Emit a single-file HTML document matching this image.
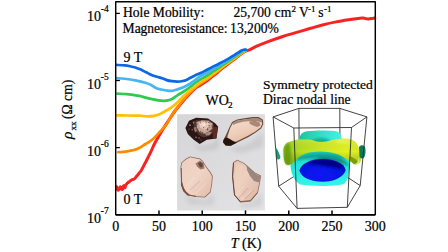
<!DOCTYPE html>
<html><head><meta charset="utf-8"><style>
html,body{margin:0;padding:0;background:#fff;overflow:hidden;}
svg{display:block;}
text{font-family:"Liberation Serif",serif;fill:#000;stroke:#000;stroke-width:0.22px;}
</style></head><body>
<svg width="448" height="252" viewBox="0 0 448 252">
<rect width="448" height="252" fill="#fff"/>
<defs>
<linearGradient id="pbg" x1="0" y1="0" x2="1" y2="1">
 <stop offset="0" stop-color="#d6d6d8"/><stop offset="0.5" stop-color="#dcdcde"/><stop offset="1" stop-color="#e3e3e5"/>
</linearGradient>
<linearGradient id="c2g" x1="0" y1="0" x2="0.5" y2="1">
 <stop offset="0" stop-color="#f3dccd"/><stop offset="0.55" stop-color="#efcfbc"/><stop offset="1" stop-color="#e2b8a0"/>
</linearGradient>
<linearGradient id="c3g" x1="0" y1="0" x2="1" y2="1">
 <stop offset="0" stop-color="#eccebf"/><stop offset="0.5" stop-color="#f0d4c6"/><stop offset="1" stop-color="#e2bcaa"/>
</linearGradient>
<linearGradient id="c4g" x1="0" y1="0" x2="1" y2="1">
 <stop offset="0" stop-color="#e4c0ae"/><stop offset="0.4" stop-color="#eed0c0"/><stop offset="1" stop-color="#dcb4a2"/>
</linearGradient>
<filter id="bl1" x="-20%" y="-20%" width="140%" height="140%"><feGaussianBlur stdDeviation="0.55"/></filter>
<filter id="bl2" x="-30%" y="-30%" width="160%" height="160%"><feGaussianBlur stdDeviation="2"/></filter>
</defs>
<rect x="177.1" y="114.2" width="87.8" height="96.3" fill="url(#pbg)"/>
<g filter="url(#bl2)" opacity="0.45">
 <path d="M192,141 L202,147 L214,143 L219,134 L218,149 L200,151 Z" fill="#b0b0b2"/>
 <path d="M228,149 L248,144 L263,133 L263,147 L240,153 Z" fill="#b8b8ba"/>
 <path d="M184,195 L205,201 L213,194 L214,205 L190,205 Z" fill="#bcbcbe"/>
 <path d="M240,203 L252,202 L262,192 L262,206 L242,208 Z" fill="#bcbcbe"/>
</g>
<g filter="url(#bl1)">
<!-- crystal 1 dark -->
<path d="M185.4,127.9 L189,120.8 L196.1,117.8 L208,118.4 L215.2,123.2 L218.2,126.7 L216.4,138.6 L206.8,139.8 L199.7,144 L193.7,139.8 L187.8,133.9 Z" fill="#2a1612"/>
<path d="M192.5,121.5 L199,119.4 L204,120.6 L209,119.6 L213,123 L214.5,128 L212.5,133 L208.5,136.2 L203.5,137.5 L199.5,135.5 L196.5,132 L194,127 Z" fill="#4e3832"/>
<path d="M196.5,122 L202.5,120.2 L208.5,120.8 L212.5,124 L212,129 L208.5,132 L204,133.8 L199.5,132 L196.8,127.5 Z" fill="#c8a496"/>
<path d="M199,122.5 L204,121.3 L208,122.5 L210.5,125.5 L208,128.8 L203.5,129.5 L200,127.5 Z" fill="#e6cabe"/>
<path d="M201.5,123.5 L204.5,123 L206,125 L203.5,126.2 Z" fill="#f4e2d8"/>
<ellipse cx="198.8" cy="129.7" rx="0.84" ry="0.44" transform="rotate(39 198.8 129.7)" fill="#f0dcd2"/>
<ellipse cx="209.7" cy="127.2" rx="0.75" ry="0.34" transform="rotate(1 209.7 127.2)" fill="#8a6a60"/>
<ellipse cx="211.9" cy="126.0" rx="0.50" ry="0.55" transform="rotate(166 211.9 126.0)" fill="#4a322c"/>
<ellipse cx="209.1" cy="125.7" rx="0.71" ry="0.63" transform="rotate(97 209.1 125.7)" fill="#4a322c"/>
<ellipse cx="207.0" cy="133.1" rx="0.42" ry="0.55" transform="rotate(16 207.0 133.1)" fill="#4a322c"/>
<ellipse cx="203.7" cy="127.7" rx="0.64" ry="0.44" transform="rotate(34 203.7 127.7)" fill="#4a322c"/>
<ellipse cx="204.0" cy="131.5" rx="0.45" ry="0.33" transform="rotate(121 204.0 131.5)" fill="#d8b8aa"/>
<ellipse cx="205.5" cy="127.8" rx="0.67" ry="0.39" transform="rotate(26 205.5 127.8)" fill="#d8b8aa"/>
<ellipse cx="203.0" cy="125.1" rx="0.72" ry="0.40" transform="rotate(179 203.0 125.1)" fill="#f0dcd2"/>
<ellipse cx="200.5" cy="131.7" rx="0.51" ry="0.54" transform="rotate(177 200.5 131.7)" fill="#4a322c"/>
<ellipse cx="204.4" cy="127.7" rx="0.92" ry="0.34" transform="rotate(110 204.4 127.7)" fill="#d8b8aa"/>
<ellipse cx="207.4" cy="128.8" rx="0.98" ry="0.38" transform="rotate(137 207.4 128.8)" fill="#8a6a60"/>
<ellipse cx="200.2" cy="122.4" rx="1.05" ry="0.32" transform="rotate(77 200.2 122.4)" fill="#6a4c44"/>
<ellipse cx="207.6" cy="129.5" rx="1.03" ry="0.63" transform="rotate(73 207.6 129.5)" fill="#6a4c44"/>
<ellipse cx="212.3" cy="128.3" rx="1.02" ry="0.45" transform="rotate(68 212.3 128.3)" fill="#6a4c44"/>
<ellipse cx="211.9" cy="123.4" rx="0.79" ry="0.43" transform="rotate(73 211.9 123.4)" fill="#f0dcd2"/>
<ellipse cx="197.0" cy="124.0" rx="1.00" ry="0.51" transform="rotate(6 197.0 124.0)" fill="#6a4c44"/>
<ellipse cx="201.7" cy="132.6" rx="1.09" ry="0.55" transform="rotate(86 201.7 132.6)" fill="#8a6a60"/>
<ellipse cx="198.4" cy="129.1" rx="1.04" ry="0.44" transform="rotate(172 198.4 129.1)" fill="#8a6a60"/>
<ellipse cx="206.2" cy="126.0" rx="0.81" ry="0.59" transform="rotate(55 206.2 126.0)" fill="#d8b8aa"/>
<ellipse cx="206.0" cy="122.0" rx="0.90" ry="0.40" transform="rotate(23 206.0 122.0)" fill="#4a322c"/>
<ellipse cx="200.5" cy="124.6" rx="0.57" ry="0.63" transform="rotate(76 200.5 124.6)" fill="#f0dcd2"/>
<ellipse cx="208.8" cy="131.4" rx="0.50" ry="0.31" transform="rotate(71 208.8 131.4)" fill="#6a4c44"/>
<ellipse cx="196.4" cy="126.3" rx="0.50" ry="0.60" transform="rotate(118 196.4 126.3)" fill="#6a4c44"/>
<ellipse cx="202.7" cy="132.4" rx="0.83" ry="0.32" transform="rotate(154 202.7 132.4)" fill="#6a4c44"/>
<ellipse cx="208.1" cy="127.7" rx="0.43" ry="0.53" transform="rotate(157 208.1 127.7)" fill="#4a322c"/>
<ellipse cx="203.9" cy="120.9" rx="0.93" ry="0.32" transform="rotate(128 203.9 120.9)" fill="#8a6a60"/>
<ellipse cx="212.4" cy="128.5" rx="0.92" ry="0.35" transform="rotate(28 212.4 128.5)" fill="#8a6a60"/>
<ellipse cx="209.9" cy="131.2" rx="0.74" ry="0.48" transform="rotate(98 209.9 131.2)" fill="#4a322c"/>
<ellipse cx="204.6" cy="130.3" rx="1.08" ry="0.37" transform="rotate(126 204.6 130.3)" fill="#d8b8aa"/>
<ellipse cx="208.9" cy="122.7" rx="0.83" ry="0.38" transform="rotate(36 208.9 122.7)" fill="#4a322c"/>
<path d="M205,133.5 L209.5,131.5 L212,132.5 L209.5,135.2 L206,135.6 Z" fill="#a8847a"/>
<path d="M193.5,127.5 L196,127 L197,131 L195,132.5 Z" fill="#9a7870"/>
<g fill="#b49088" opacity="0.85">
 <circle cx="190" cy="125.2" r="0.9"/><circle cx="192.2" cy="129.8" r="0.7"/><circle cx="196" cy="137.2" r="0.8"/><circle cx="193.5" cy="122.8" r="0.7"/><circle cx="201" cy="140" r="0.6"/><circle cx="189" cy="129" r="0.5"/><circle cx="199" cy="138" r="0.7"/>
</g>
<path d="M213.2,127 L218,126.8 L216.3,138.4 L212.5,138 Z" fill="#5e2a22"/>
<!-- crystal 2 -->
<path d="M232.1,121.9 L237.1,119.4 L244.3,118.3 L252.9,117.1 L258.6,117.1 L262.9,119.7 L263.3,124 L261.4,128.3 L255.7,132.6 L248.6,136.9 L241.4,140.4 L235.7,143.3 L230.7,145.7 L225.7,145.4 L223.1,142.6 L223.6,139.7 L226.4,134 L229.3,127.6 Z" fill="#6a4a3c"/>
<path d="M232.8,123 L237.5,120.6 L244.5,119.5 L253,118.4 L258.3,118.4 L261.9,120.4 L262.2,124 L260.5,127.6 L255,131.7 L248,135.8 L241,139.2 L235.2,142 L231,143.5 L227.5,141 L227.5,136 L230.2,128 Z" fill="url(#c2g)"/>
<path d="M232.8,123 L237.5,120.6 L244.5,119.5 L253,118.4 L258.3,118.4 L261.9,120.4 L262.1,122.5 L257,121.2 L250,121 L243,121.8 L237,123.2 L233,125 Z" fill="#9e7a6a" opacity="0.85"/>
<path d="M249,121.5 L255,120.8 L259.5,122.5 L260.5,125.5 L257,127 L253,125.5 L250,124 Z" fill="#8c6a5c" opacity="0.7"/>
<path d="M223.4,140 L225.5,137.5 L229,138.5 L233,141 L237,142.4 L235.7,143.3 L230.7,145.7 L225.7,145.4 L223.1,142.6 Z" fill="#22140f"/>
<!-- crystal 3 -->
<path d="M181.4,162.5 L186,158.5 L190,156.5 L200,158.5 L203,161 L206,166 L210.5,172 L212.8,176 L212,185 L210.6,192.5 L205,197.5 L196,197 L188,195.5 L183.5,191 L181,185 L180.8,175 L180.5,167 Z" fill="#8e6656"/>
<path d="M182.1,162.8 L186.4,159.2 L190.2,157.3 L199.6,159.2 L202.5,161.6 L205.4,166.5 L209.8,172.4 L212,176.2 L211.3,185 L209.9,192.1 L204.6,196.8 L196,196.3 L188.3,194.8 L184.1,190.6 L181.7,184.8 L181.5,175 L181.2,167.2 Z" fill="url(#c3g)"/>
<path d="M181.3,168 L181.6,181.5 L184,190.6 L188.3,194.8 L196,196.3" fill="none" stroke="#6e4a3c" stroke-width="0.8"/>
<g stroke-width="0.6" fill="none">
 <path d="M186,186 L195,177" stroke="#f6e2d6"/><path d="M190,190 L200,181" stroke="#caa292"/><path d="M196,193 L206,183" stroke="#f6e2d6"/>
</g>
<path d="M195.5,163.5 L200,160.4 L203.6,163 L204.6,168.4 L200.5,169.6 L197.2,166.8 Z" fill="#7a5444" opacity="0.7"/><path d="M198,163.5 L200.5,162 L202.8,164 L202.5,167.3 L200,167.2 Z" fill="#4a2e24" opacity="0.7"/>
<path d="M181.4,180 L183,186.5 L186,191.5 L190,195 L187.5,195.6 L183.2,191.3 L181,185 Z" fill="#7a4e3e"/>
<path d="M185,185 L192,192 L200,194 L192,195 L186,190 Z" fill="#f2d6c6" opacity="0.5"/>
<!-- crystal 4 -->
<path d="M233.2,162.2 L237.3,159.7 L244.5,163.2 L248.6,167.3 L254.8,172.5 L261,175.6 L260,182.8 L257.9,193.1 L250.7,201.4 L240.4,202.4 L234.2,195.2 L232.1,176.6 Z" fill="#8a6454"/>
<path d="M233.9,162.7 L237.4,160.5 L244,163.8 L248.1,167.8 L254.4,173 L260.2,176 L259.3,182.8 L257.2,192.7 L250.3,200.6 L240.8,201.6 L234.9,194.8 L232.9,176.6 Z" fill="url(#c4g)"/>
<path d="M236.5,163 L243,166 L240,190 L245,200 L238,199 L235,190 L234.5,175 Z" fill="#f0d2be" opacity="0.6"/>
<path d="M233.4,163 L232.6,176.6 L234.5,195 L240.5,202" fill="none" stroke="#5e3e32" stroke-width="0.9"/>
<path d="M241,201.5 L250.3,200.6 L257.2,192.7" fill="none" stroke="#7a5648" stroke-width="0.7"/>
<g stroke-width="0.6" fill="none">
 <path d="M238,199 L248,188" stroke="#c49c8a"/><path d="M241,200 L252,190" stroke="#f6e0d4"/><path d="M236,196 L244,186" stroke="#f6e0d4"/><path d="M245,199 L254,190" stroke="#c49c8a"/>
</g>
<path d="M246.6,165 L251,169 L256,174 L260.2,176.5 L259.3,182.5 L254,181 L250,176 L247,170 Z" fill="#8e7a76" opacity="0.85"/>
</g>

<defs>
<linearGradient id="capg" x1="0" y1="0" x2="1" y2="0">
 <stop offset="0" stop-color="#1cc49e"/><stop offset="0.35" stop-color="#2ad8b8"/><stop offset="0.75" stop-color="#3ae8d8"/><stop offset="1" stop-color="#44f0e6"/>
</linearGradient>
<linearGradient id="yelg" x1="0" y1="0" x2="1" y2="0">
 <stop offset="0" stop-color="#94cc1c"/><stop offset="0.2" stop-color="#b4de22"/><stop offset="0.5" stop-color="#cfe924"/><stop offset="0.8" stop-color="#e2f222"/><stop offset="1" stop-color="#d4ec28"/>
</linearGradient>
<linearGradient id="yelv" x1="0" y1="0" x2="0" y2="1">
 <stop offset="0" stop-color="#ffffff" stop-opacity="0.12"/><stop offset="0.5" stop-color="#000000" stop-opacity="0"/><stop offset="1" stop-color="#305000" stop-opacity="0.3"/>
</linearGradient>
<linearGradient id="cyg" x1="0" y1="0" x2="0" y2="1">
 <stop offset="0" stop-color="#18c8b4"/><stop offset="0.3" stop-color="#22e0d0"/><stop offset="1" stop-color="#34f4ee"/>
</linearGradient>
<radialGradient id="blg" cx="0.45" cy="0.7" r="0.65">
 <stop offset="0" stop-color="#0a1af4"/><stop offset="0.6" stop-color="#0614e4"/><stop offset="1" stop-color="#0410c8"/>
</radialGradient>
<filter id="fb" x="-10%" y="-10%" width="120%" height="120%"><feGaussianBlur stdDeviation="0.45"/></filter>
<filter id="fb2" x="-30%" y="-30%" width="160%" height="160%"><feGaussianBlur stdDeviation="1.2"/></filter>
</defs>
<g stroke="#222" stroke-width="0.85" fill="none">
 <path d="M273.1,116.9 L298.9,108.4 L339.8,108.4 L366.9,116.9"/>
 <path d="M298.9,108.4 L299.3,173"/>
 <path d="M339.8,108.4 L340.1,172.5"/>
 <path d="M278.7,186.2 L299.3,173 L340.1,172.5 L360.2,185.6"/>
</g>
<g filter="url(#fb)">
<!-- back cap -->
<path d="M299.2,142 C299,136 301,132.2 307,131.2 C315,130.2 327,130.2 335,131 C339.5,131.6 341.8,134.5 341.6,141 L300,143 Z" fill="url(#capg)"/>
<ellipse cx="321" cy="141" rx="9" ry="3" fill="#109c84" opacity="0.7" filter="url(#fb2)"/>
<!-- lower cyan ring -->
<path d="M291,160 C291.5,154 300,151 310,150.5 L336,150.5 C345,151 349.5,155 349.5,162 C349.5,171 348.5,180 344,184 C336,186.5 312,186.5 300,184.5 C295,181.5 291.5,175 290.6,167 Z" fill="url(#cyg)"/>
<path d="M318,156 C328,155.5 338,157 344,160.5 C347,163 348.5,165 348.5,166.5 C346,164.5 341,161.5 334,160 C328,159 322,158.5 318,158 Z" fill="#0a7a5a" opacity="0.9" filter="url(#fb2)"/>
<path d="M297,157.5 C305,154.2 314,153.6 322,153.6 C332,153.6 341,155 347,159 C341,159.3 332,158.2 322,158.2 C312,158.2 304,159 297,160.5 Z" fill="#0c9c8c" opacity="0.85" filter="url(#fb2)"/>
<!-- blue -->
<path d="M299.4,170.5 C301,163.5 311,159 322.5,159 C334,159 344,163 345.7,170 C344,177 334,181.8 322.5,181.8 C311,181.8 301,177.5 299.4,170.5 Z" fill="url(#blg)"/>
<path d="M308,162.5 C313,160 318,159.3 323,159.3 C332,159.3 339,161.5 343,165.5 C344,167.5 343,169 340,168.5 C334,167.5 328,166.5 322,165.5 C316,164.5 311,164 308,162.5 Z" fill="#00007a" opacity="0.85" filter="url(#fb2)"/>
<!-- yellow band -->
<path id="yb" d="M283.4,151 C283.3,147.5 284.5,145 286.5,143.5 C288.5,142 290,141.5 292,141 C294.5,140.2 296,139.6 298,139.5 C302,139.3 306,139.4 309,139.6 C313,140 315.5,141.6 318,141.8 C321,142 323,142 325,141.8 C328,141.5 331,140.2 335.6,139.6 C340,139 344,138.3 347,138.6 C351,139.3 354,140.5 356,142.5 C358,145 358.8,148 359.5,151 C360.2,154 360.8,156.5 360.8,158.5 C361,161.5 360,163.5 357.5,163.8 C354.5,164 351.5,162.3 349,160.8 C345,158.3 342,156 338.5,154.4 C333,152.7 327,151.8 320.3,151.6 C314,151.6 307,152.3 302,155 C298,157.3 296,160 293.5,162.5 C291,164.8 288,165.6 286,164.3 C284,162.5 283.5,156 283.4,151 Z" fill="url(#yelg)"/>
<path d="M283.4,151 C283.3,147.5 284.5,145 286.5,143.5 C288.5,142 290,141.5 292,141 C294.5,140.2 296,139.6 298,139.5 C302,139.3 306,139.4 309,139.6 C313,140 315.5,141.6 318,141.8 C321,142 323,142 325,141.8 C328,141.5 331,140.2 335.6,139.6 C340,139 344,138.3 347,138.6 C351,139.3 354,140.5 356,142.5 C358,145 358.8,148 359.5,151 C360.2,154 360.8,156.5 360.8,158.5 C361,161.5 360,163.5 357.5,163.8 C354.5,164 351.5,162.3 349,160.8 C345,158.3 342,156 338.5,154.4 C333,152.7 327,151.8 320.3,151.6 C314,151.6 307,152.3 302,155 C298,157.3 296,160 293.5,162.5 C291,164.8 288,165.6 286,164.3 C284,162.5 283.5,156 283.4,151 Z" fill="url(#yelv)"/>
<!-- left lobe shading -->
<path d="M283.8,150 C284.5,146 286,143.5 289,142.5 C291,148 292,156 290.5,164.6 C288,166 285,164 284.2,159 Z" fill="#5e9410" opacity="0.75" filter="url(#fb2)"/>
<!-- right lobe shading -->
<path d="M350,156.5 C353,157.5 356,159 357.5,161.5 C358,163.5 356.5,164.8 354,164.2 C351.5,163 350.2,160 350,156.5 Z" fill="#6e9a10" opacity="0.85" filter="url(#fb)"/>
<path d="M358.5,158 C359.8,160 360.2,162.5 358.5,164 C357,165.2 354.5,165.3 352.5,164.5 C355,164.3 357,163.5 357.8,161.5 Z" fill="#e4f46a" opacity="0.9"/>
<!-- highlight -->
<path d="M336,140.5 C342,139.6 348,141 352,144 C347,143.5 341,143 336,142.5 Z" fill="#f4fa60" opacity="0.6" filter="url(#fb2)"/>
<!-- teal blobs -->
<path d="M359,147 C360.5,144.8 363,144.6 364.6,146.5 C366,149 365.8,154 364,157.5 C362.5,159.2 360.5,158.8 359.5,156.5 Z" fill="#0b7a52"/>
<path d="M276.2,147.8 C277.5,150 279.5,153.5 280.3,156.5 C280.6,158.8 279,160 277.5,159.4 C276.3,158.5 275.9,156 276,152 Z" fill="#14a078"/>
</g>
<g stroke="#222" stroke-width="0.85" fill="none">
 <path d="M273.1,116.9 L293.8,128 L351.5,127.5 L366.9,116.9"/>
 <path d="M273.1,116.9 L278.7,186.2 L297.1,208.4 L347.3,207.3 L360.2,185.6 L366.9,116.9"/>
 <path d="M293.8,128 L297.1,208.4"/>
 <path d="M351.5,127.5 L347.3,207.3"/>
</g>

<path d="M116.40,186.50 C116.60,187.02 117.23,189.02 117.60,189.60 C117.97,190.18 118.25,190.33 118.60,190.00 C118.95,189.67 119.37,188.10 119.70,187.60 C120.03,187.10 120.28,186.72 120.60,187.00 C120.92,187.28 121.27,188.93 121.60,189.30 C121.93,189.67 122.30,189.70 122.60,189.20 C122.90,188.70 123.13,186.90 123.40,186.30 C123.67,185.70 123.95,185.35 124.20,185.60 C124.45,185.85 124.63,187.90 124.90,187.80 C125.17,187.70 125.37,185.80 125.80,185.00 C126.23,184.20 126.88,183.57 127.50,183.00 C128.12,182.43 128.77,182.13 129.50,181.60 C130.23,181.07 131.10,180.25 131.90,179.80 C132.70,179.35 133.52,179.48 134.30,178.90 C135.08,178.32 135.82,177.23 136.60,176.30 C137.38,175.37 138.20,174.32 139.00,173.30 C139.80,172.28 140.60,171.48 141.40,170.20 C142.20,168.92 143.03,167.05 143.80,165.60 C144.57,164.15 145.30,162.85 146.00,161.50 C146.70,160.15 147.12,159.28 148.00,157.50 C148.88,155.72 150.25,153.02 151.30,150.80 C152.35,148.58 153.20,146.37 154.30,144.20 C155.40,142.03 156.72,139.87 157.90,137.80 C159.08,135.73 160.22,133.78 161.40,131.80 C162.58,129.82 163.75,127.87 165.00,125.90 C166.25,123.93 167.37,122.32 168.90,120.00 C170.43,117.68 172.43,114.42 174.20,112.00 C175.97,109.58 177.65,107.75 179.50,105.50 C181.35,103.25 183.42,100.65 185.30,98.50 C187.18,96.35 189.10,94.35 190.80,92.60 C192.50,90.85 194.05,89.15 195.50,88.00 C196.95,86.85 198.08,86.57 199.50,85.70 C200.92,84.83 202.42,83.87 204.00,82.80 C205.58,81.73 207.50,80.43 209.00,79.30 C210.50,78.17 211.57,77.13 213.00,76.00 C214.43,74.87 216.27,73.62 217.60,72.50 C218.93,71.38 219.77,70.35 221.00,69.30 C222.23,68.25 223.67,67.22 225.00,66.20 C226.33,65.18 227.50,64.32 229.00,63.20 C230.50,62.08 232.50,60.63 234.00,59.50 C235.50,58.37 236.83,57.32 238.00,56.40 C239.17,55.48 240.08,54.68 241.00,54.00 C241.92,53.32 242.70,52.78 243.50,52.30 C244.30,51.82 244.72,51.55 245.80,51.10 C246.88,50.65 248.18,50.42 250.00,49.60 C251.82,48.78 253.47,47.62 256.70,46.20 C259.93,44.78 265.17,42.68 269.40,41.10 C273.63,39.52 277.87,38.07 282.10,36.70 C286.33,35.33 290.03,34.30 294.80,32.90 C299.57,31.50 305.93,29.67 310.70,28.30 C315.47,26.93 319.17,25.77 323.40,24.70 C327.63,23.63 331.87,22.72 336.10,21.90 C340.33,21.08 345.17,20.35 348.80,19.80 C352.43,19.25 355.70,18.88 357.90,18.60 C360.10,18.32 360.90,18.17 362.00,18.10 C363.10,18.03 363.55,18.05 364.50,18.20 C365.45,18.35 366.62,18.95 367.70,19.00 C368.78,19.05 369.82,18.65 371.00,18.50 C372.18,18.35 374.17,18.17 374.80,18.10" fill="none" stroke="#f82222" stroke-width="3.0" stroke-linecap="round" stroke-linejoin="round"/>
<path d="M118.30,152.20 C119.08,152.13 121.33,151.98 123.00,151.80 C124.67,151.62 126.80,151.33 128.30,151.10 C129.80,150.87 130.82,150.65 132.00,150.40 C133.18,150.15 134.23,150.00 135.40,149.60 C136.57,149.20 137.90,148.55 139.00,148.00 C140.10,147.45 140.92,146.97 142.00,146.30 C143.08,145.63 144.12,144.85 145.50,144.00 C146.88,143.15 148.63,142.43 150.30,141.20 C151.97,139.97 153.77,138.32 155.50,136.60 C157.23,134.88 158.98,132.77 160.70,130.90 C162.42,129.03 164.48,127.08 165.80,125.40 C167.12,123.72 167.58,122.53 168.60,120.80 C169.62,119.07 170.35,117.37 171.90,115.00 C173.45,112.63 175.92,109.22 177.90,106.60 C179.88,103.98 181.82,101.60 183.80,99.30 C185.78,97.00 187.93,94.73 189.80,92.80 C191.67,90.87 193.38,89.15 195.00,87.70 C196.62,86.25 198.00,85.18 199.50,84.11 C201.00,83.05 202.42,82.35 204.00,81.32 C205.58,80.29 207.50,79.03 209.00,77.94 C210.50,76.84 211.57,75.86 213.00,74.78 C214.43,73.70 216.27,72.52 217.60,71.46 C218.93,70.40 219.77,69.43 221.00,68.43 C222.23,67.43 223.67,66.45 225.00,65.47 C226.33,64.50 227.50,63.66 229.00,62.58 C230.50,61.49 232.50,60.06 234.00,58.95 C235.50,57.84 236.83,56.81 238.00,55.92 C239.17,55.02 240.08,54.24 241.00,53.58 C241.92,52.93 242.70,52.42 243.50,51.97 C244.30,51.53 245.42,51.09 245.80,50.92" fill="none" stroke="#ff8a00" stroke-width="2.7" stroke-linecap="round" stroke-linejoin="round"/>
<path d="M116.70,115.30 C118.37,115.33 123.82,115.45 126.70,115.50 C129.58,115.55 131.78,115.57 134.00,115.60 C136.22,115.63 137.83,115.58 140.00,115.70 C142.17,115.82 144.62,116.28 147.00,116.30 C149.38,116.32 152.37,116.08 154.30,115.80 C156.23,115.52 157.42,115.02 158.60,114.60 C159.78,114.18 160.33,113.85 161.40,113.30 C162.47,112.75 163.90,111.92 165.00,111.30 C166.10,110.68 166.92,110.27 168.00,109.60 C169.08,108.93 170.22,108.23 171.50,107.30 C172.78,106.37 174.28,105.25 175.70,104.00 C177.12,102.75 178.57,101.23 180.00,99.80 C181.43,98.37 182.88,96.75 184.30,95.40 C185.72,94.05 187.07,92.88 188.50,91.70 C189.93,90.52 191.48,89.42 192.90,88.30 C194.32,87.18 195.90,85.92 197.00,85.00 C198.10,84.08 198.33,83.59 199.50,82.77 C200.67,81.95 202.42,81.06 204.00,80.06 C205.58,79.07 207.50,77.83 209.00,76.78 C210.50,75.73 211.57,74.78 213.00,73.74 C214.43,72.71 216.27,71.59 217.60,70.58 C218.93,69.57 219.77,68.65 221.00,67.69 C222.23,66.74 223.67,65.80 225.00,64.86 C226.33,63.92 227.50,63.11 229.00,62.05 C230.50,60.99 232.50,59.58 234.00,58.49 C235.50,57.40 236.83,56.39 238.00,55.51 C239.17,54.64 240.08,53.87 241.00,53.23 C241.92,52.60 242.70,52.11 243.50,51.70 C244.30,51.29 245.42,50.92 245.80,50.76" fill="none" stroke="#ffc000" stroke-width="2.7" stroke-linecap="round" stroke-linejoin="round"/>
<path d="M117.40,93.70 C118.95,93.77 124.10,93.90 126.70,94.10 C129.30,94.30 130.88,94.60 133.00,94.90 C135.12,95.20 137.28,95.45 139.40,95.90 C141.52,96.35 143.58,97.07 145.70,97.60 C147.82,98.13 149.98,98.63 152.10,99.10 C154.22,99.57 156.42,100.12 158.40,100.40 C160.38,100.68 162.40,100.80 164.00,100.80 C165.60,100.80 166.67,100.70 168.00,100.40 C169.33,100.10 170.43,99.85 172.00,99.00 C173.57,98.15 175.60,96.47 177.40,95.30 C179.20,94.13 181.28,92.93 182.80,92.00 C184.32,91.07 185.30,90.53 186.50,89.70 C187.70,88.87 188.67,88.03 190.00,87.00 C191.33,85.97 192.92,84.69 194.50,83.50 C196.08,82.31 197.92,80.87 199.50,79.84 C201.08,78.82 202.42,78.26 204.00,77.33 C205.58,76.40 207.50,75.23 209.00,74.26 C210.50,73.29 211.57,72.42 213.00,71.49 C214.43,70.55 216.27,69.56 217.60,68.66 C218.93,67.76 219.77,66.94 221.00,66.08 C222.23,65.23 223.67,64.38 225.00,63.51 C226.33,62.65 227.50,61.90 229.00,60.90 C230.50,59.89 232.50,58.53 234.00,57.48 C235.50,56.44 236.83,55.46 238.00,54.62 C239.17,53.79 240.08,53.05 241.00,52.46 C241.92,51.88 242.70,51.44 243.50,51.10 C244.30,50.76 245.42,50.54 245.80,50.43" fill="none" stroke="#2ecc4e" stroke-width="2.7" stroke-linecap="round" stroke-linejoin="round"/>
<path d="M116.50,78.20 C117.87,78.29 121.55,78.38 124.70,78.75 C127.85,79.12 131.83,79.69 135.40,80.40 C138.97,81.11 143.42,82.20 146.10,83.00 C148.78,83.80 149.85,84.37 151.50,85.20 C153.15,86.03 154.42,87.28 156.00,88.00 C157.58,88.72 159.22,89.08 161.00,89.50 C162.78,89.92 164.87,90.28 166.70,90.50 C168.53,90.72 170.22,90.98 172.00,90.80 C173.78,90.62 175.60,89.93 177.40,89.40 C179.20,88.87 181.28,88.20 182.80,87.60 C184.32,87.00 185.30,86.47 186.50,85.80 C187.70,85.13 188.67,84.47 190.00,83.60 C191.33,82.73 192.92,81.75 194.50,80.60 C196.08,79.45 197.92,77.71 199.50,76.67 C201.08,75.63 202.42,75.22 204.00,74.36 C205.58,73.51 207.50,72.42 209.00,71.53 C210.50,70.64 211.57,69.87 213.00,69.04 C214.43,68.22 216.27,67.36 217.60,66.58 C218.93,65.80 219.77,65.10 221.00,64.34 C222.23,63.59 223.67,62.84 225.00,62.06 C226.33,61.27 227.50,60.59 229.00,59.65 C230.50,58.70 232.50,57.39 234.00,56.39 C235.50,55.39 236.83,54.46 238.00,53.66 C239.17,52.87 240.08,52.17 241.00,51.63 C241.92,51.10 242.70,50.71 243.50,50.45 C244.30,50.19 245.42,50.13 245.80,50.06" fill="none" stroke="#46b6f2" stroke-width="2.7" stroke-linecap="round" stroke-linejoin="round"/>
<path d="M116.50,64.90 C117.87,64.98 122.45,65.18 124.70,65.40 C126.95,65.62 128.22,65.85 130.00,66.20 C131.78,66.55 133.60,66.93 135.40,67.50 C137.20,68.07 139.02,68.80 140.80,69.60 C142.58,70.40 144.32,71.40 146.10,72.30 C147.88,73.20 149.70,74.25 151.50,75.00 C153.30,75.75 155.15,76.27 156.90,76.80 C158.65,77.33 160.37,77.65 162.00,78.20 C163.63,78.75 165.03,79.60 166.70,80.10 C168.37,80.60 170.22,80.95 172.00,81.20 C173.78,81.45 175.60,81.63 177.40,81.60 C179.20,81.57 181.28,81.28 182.80,81.00 C184.32,80.72 185.30,80.40 186.50,79.90 C187.70,79.40 188.67,78.68 190.00,78.00 C191.33,77.32 192.92,76.55 194.50,75.80 C196.08,75.05 197.92,74.23 199.50,73.50 C201.08,72.77 202.42,72.18 204.00,71.40 C205.58,70.62 207.50,69.60 209.00,68.80 C210.50,68.00 211.57,67.32 213.00,66.60 C214.43,65.88 216.27,65.17 217.60,64.50 C218.93,63.83 219.77,63.25 221.00,62.60 C222.23,61.95 223.67,61.30 225.00,60.60 C226.33,59.90 227.50,59.28 229.00,58.40 C230.50,57.52 232.50,56.25 234.00,55.30 C235.50,54.35 236.83,53.45 238.00,52.70 C239.17,51.95 240.08,51.28 241.00,50.80 C241.92,50.32 242.70,49.98 243.50,49.80 C244.30,49.62 245.42,49.72 245.80,49.70" fill="none" stroke="#0a68e6" stroke-width="2.7" stroke-linecap="round" stroke-linejoin="round"/>
<rect x="115.7" y="1.8" width="259.60" height="212.80" fill="none" stroke="#000" stroke-width="1.45" stroke-linejoin="round"/>
<line x1="115.7" y1="214.85" x2="375.3" y2="214.85" stroke="#000" stroke-width="1.9"/>
<line x1="158.97" y1="214.6" x2="158.97" y2="210.4" stroke="#000" stroke-width="1.5"/>
<line x1="202.23" y1="214.6" x2="202.23" y2="210.4" stroke="#000" stroke-width="1.5"/>
<line x1="245.50" y1="214.6" x2="245.50" y2="210.4" stroke="#000" stroke-width="1.5"/>
<line x1="288.77" y1="214.6" x2="288.77" y2="210.4" stroke="#000" stroke-width="1.5"/>
<line x1="332.03" y1="214.6" x2="332.03" y2="210.4" stroke="#000" stroke-width="1.5"/>
<line x1="115.7" y1="13.40" x2="119.9" y2="13.40" stroke="#000" stroke-width="1.3"/>
<line x1="115.7" y1="80.50" x2="119.9" y2="80.50" stroke="#000" stroke-width="1.3"/>
<line x1="115.7" y1="147.60" x2="119.9" y2="147.60" stroke="#000" stroke-width="1.3"/>
<text x="115.70" y="231.4" text-anchor="middle" style="font-size:14px">0</text>
<text x="158.97" y="231.4" text-anchor="middle" style="font-size:14px">50</text>
<text x="202.23" y="231.4" text-anchor="middle" style="font-size:14px">100</text>
<text x="245.50" y="231.4" text-anchor="middle" style="font-size:14px">150</text>
<text x="288.77" y="231.4" text-anchor="middle" style="font-size:14px">200</text>
<text x="332.03" y="231.4" text-anchor="middle" style="font-size:14px">250</text>
<text x="375.30" y="231.4" text-anchor="middle" style="font-size:14px">300</text>
<text x="86.9" y="21.40" style="font-size:14px" >10</text>
<text x="100.8" y="12.40" style="font-size:9.5px" >-4</text>
<text x="86.9" y="88.50" style="font-size:14px" >10</text>
<text x="100.8" y="79.50" style="font-size:9.5px" >-5</text>
<text x="86.9" y="155.60" style="font-size:14px" >10</text>
<text x="100.8" y="146.60" style="font-size:9.5px" >-6</text>
<text x="86.9" y="222.70" style="font-size:14px" >10</text>
<text x="100.8" y="213.70" style="font-size:9.5px" >-7</text>
<text x="123" y="16.9" style="font-size:13.6px" >Hole Mobility:</text>
<text x="122.6" y="32.5" style="font-size:13.6px" letter-spacing="-0.05">Magnetoresistance:</text>
<text x="230.1" y="32.5" style="font-size:13.6px" >13,200%</text>
<text x="233.4" y="16.9" style="font-size:13.6px" >25,700</text>
<text x="274.6" y="16.9" style="font-size:13.6px" >cm</text>
<text x="291.5" y="11.9" style="font-size:9px" >2</text>
<text x="298.9" y="16.9" style="font-size:13.6px" >V</text>
<text x="308.0" y="11.8" style="font-size:9px" >-1</text>
<text x="318.3" y="16.9" style="font-size:13.6px" >s</text>
<text x="323.9" y="11.8" style="font-size:9px" >-1</text>
<text x="123.6" y="61.7" style="font-size:14px" >9 T</text>
<text x="123.4" y="203.6" style="font-size:14px" >0 T</text>
<text x="205.6" y="104.5" style="font-size:13.9px" >WO</text>
<text x="228.0" y="107.7" style="font-size:9.2px" >2</text>
<text x="263.0" y="88.6" style="font-size:13.5px" >Symmetry protected</text>
<text x="263.0" y="104.1" style="font-size:13.6px" >Dirac nodal line</text>
<text x="230.8" y="248.3" style="font-size:14px" font-style="italic">T</text>
<text x="242.0" y="248.3" style="font-size:14px" >(K)</text>
<g transform="translate(72.3,140.2) rotate(-90)"><text x="1.2" y="0" style="font-size:15.5px" font-style="italic">ρ</text><text x="9.7" y="3.2" style="font-size:9.2px" >xx</text><text x="21.3" y="0" style="font-size:13.6px" >(Ω cm)</text></g>
</svg>
</body></html>
